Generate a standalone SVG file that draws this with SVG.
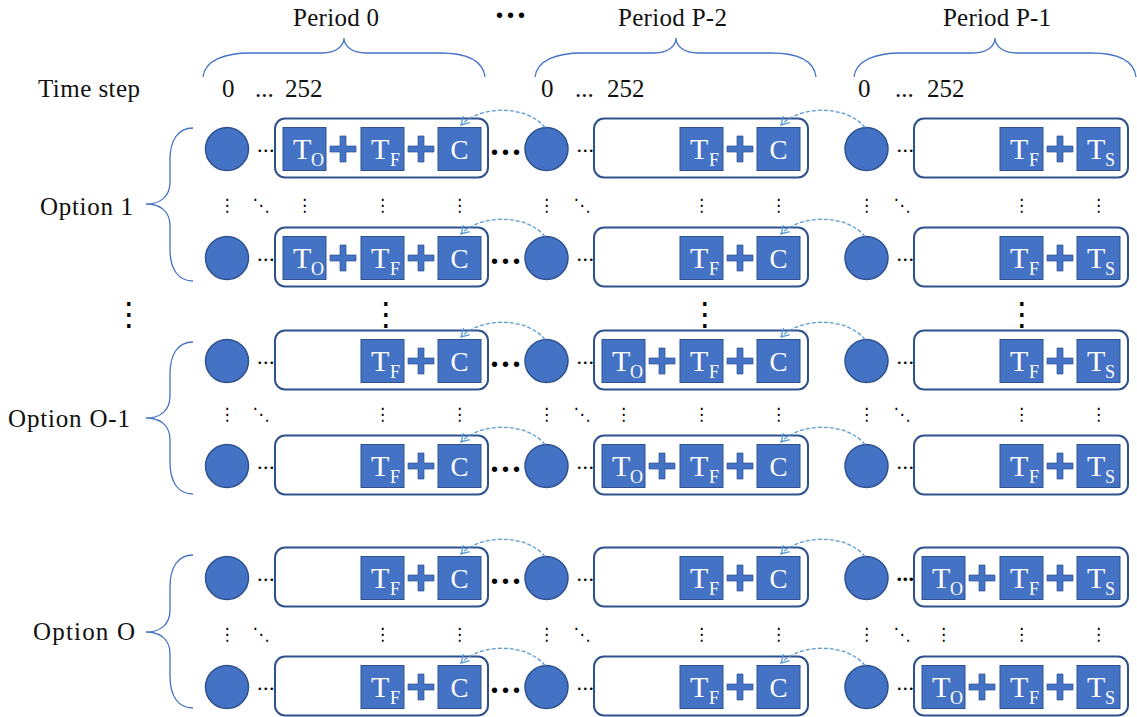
<svg xmlns="http://www.w3.org/2000/svg" xmlns:xlink="http://www.w3.org/1999/xlink" width="1137" height="717" viewBox="0 0 1137 717">
<style>
.c{fill:#4472C4;stroke:#2F528F;stroke-width:1.5}
.b{fill:#fff;stroke:#2F528F;stroke-width:2}
.s{fill:#4472C4;stroke:#2F528F;stroke-width:1}
.t{font-family:"Liberation Serif",serif;fill:#fff;font-size:30px}
.cc{font-family:"Liberation Serif",serif;fill:#fff;font-size:27px;text-anchor:middle}
.sub{font-size:18px}
.lbl{font-family:"Liberation Serif",serif;fill:#111;font-size:25px}
.sd{font-family:"Liberation Serif",serif;fill:#000;font-size:22px;letter-spacing:0.5px}
.bd{font-family:"Liberation Sans",sans-serif;fill:#000;font-size:20px;letter-spacing:4px}
.bv{font-family:"DejaVu Sans",sans-serif;fill:#000;font-size:32px;text-anchor:middle}
.vd{font-family:"DejaVu Sans",sans-serif;fill:#000;font-size:17px;text-anchor:middle}
.a{fill:none;stroke:#5B9BD5;stroke-width:1.3;stroke-dasharray:4 2;marker-end:url(#ah)}
.br{fill:none;stroke:#4472C4;stroke-width:1.3}
</style>
<defs>
<marker id="ah" markerWidth="12" markerHeight="12" refX="10" refY="6" orient="auto" markerUnits="userSpaceOnUse"><path d="M2,1.5 L10,6 L2,10.5" fill="none" stroke="#5B9BD5" stroke-width="1.3"/></marker>
<path id="plus" d="M-3,-13 h6 v10 h10 v6 h-10 v10 h-6 v-10 h-10 v-6 h10 z" fill="#4472C4" stroke="#2F528F" stroke-width="0.7"/>
</defs>
<rect width="1137" height="717" fill="#fff"/>

<g id="header">
<text class="lbl" x="293" y="26" textLength="86">Period 0</text>
<text class="bd" x="496" y="22">•••</text>
<text class="lbl" x="618" y="26" textLength="109">Period P-2</text>
<text class="lbl" x="943" y="26" textLength="108">Period P-1</text>
<path class="br" d="M203,77 C205,60 225,53 250,53 L322,53 C336,53 344,46 344,38 C344,46 352,53 366,53 L440,53 C465,53 483,60 485,77"/>
<path class="br" d="M535,77 C537,60 557,53 582,53 L654,53 C668,53 676,46 676,38 C676,46 684,53 698,53 L771,53 C796,53 814,60 816,77"/>
<path class="br" d="M854,77 C856,60 876,53 901,53 L973,53 C987,53 995,46 995,38 C995,46 1003,53 1017,53 L1091,53 C1116,53 1134,60 1136,77"/>
<text class="lbl" x="38" y="97" textLength="102">Time step</text>
<text class="lbl" x="222" y="97">0</text><text class="lbl" x="255" y="97">...</text><text class="lbl" x="285" y="97">252</text>
<text class="lbl" x="541" y="97">0</text><text class="lbl" x="575" y="97">...</text><text class="lbl" x="607" y="97">252</text>
<text class="lbl" x="858" y="97">0</text><text class="lbl" x="895" y="97">...</text><text class="lbl" x="927" y="97">252</text>
</g>

<g id="options">
<text class="lbl" x="40" y="215" textLength="93">Option 1</text>
<path class="br" d="M193,128 C178,128 170,140 170,160 L170,182 C170,197 160,204 146,204 C160,204 170,211 170,226 L170,249 C170,269 178,281 193,281"/>
<text class="lbl" x="8" y="427" textLength="122">Option O-1</text>
<path class="br" d="M193,342 C178,342 170,354 170,374 L170,396 C170,411 160,418 146,418 C160,418 170,425 170,440 L170,462 C170,482 178,494 193,494"/>
<text class="lbl" x="33" y="640" textLength="102">Option O</text>
<path class="br" d="M193,555 C178,555 170,567 170,587 L170,610 C170,625 160,632 146,632 C160,632 170,639 170,654 L170,676 C170,696 178,708 193,708"/>
</g>

<g id="ellipses">
<text class="vd" x="227" y="211">⋮</text><text class="vd" x="261" y="211">⋱</text><text class="vd" x="304.5" y="211">⋮</text><text class="vd" x="382.5" y="211">⋮</text><text class="vd" x="459.5" y="211">⋮</text>
<text class="vd" x="546.5" y="211">⋮</text><text class="vd" x="582" y="211">⋱</text><text class="vd" x="701.5" y="211">⋮</text><text class="vd" x="778.5" y="211">⋮</text>
<text class="vd" x="866.5" y="211">⋮</text><text class="vd" x="902" y="211">⋱</text><text class="vd" x="1021.5" y="211">⋮</text><text class="vd" x="1098.5" y="211">⋮</text>

<text class="bv" x="129" y="325">⋮</text>
<text class="bv" x="386" y="325">⋮</text>
<text class="bv" x="705" y="325">⋮</text>
<text class="bv" x="1022" y="325">⋮</text>

<text class="vd" x="227" y="420">⋮</text><text class="vd" x="261" y="420">⋱</text><text class="vd" x="382.5" y="420">⋮</text><text class="vd" x="459.5" y="420">⋮</text>
<text class="vd" x="546.5" y="420">⋮</text><text class="vd" x="582" y="420">⋱</text><text class="vd" x="623.5" y="420">⋮</text><text class="vd" x="701.5" y="420">⋮</text><text class="vd" x="778.5" y="420">⋮</text>
<text class="vd" x="866.5" y="420">⋮</text><text class="vd" x="902" y="420">⋱</text><text class="vd" x="1021.5" y="420">⋮</text><text class="vd" x="1098.5" y="420">⋮</text>

<text class="vd" x="227" y="640">⋮</text><text class="vd" x="261" y="640">⋱</text><text class="vd" x="382.5" y="640">⋮</text><text class="vd" x="459.5" y="640">⋮</text>
<text class="vd" x="546.5" y="640">⋮</text><text class="vd" x="582" y="640">⋱</text><text class="vd" x="701.5" y="640">⋮</text><text class="vd" x="778.5" y="640">⋮</text>
<text class="vd" x="866.5" y="640">⋮</text><text class="vd" x="902" y="640">⋱</text><text class="vd" x="943.5" y="640">⋮</text><text class="vd" x="1021.5" y="640">⋮</text><text class="vd" x="1098.5" y="640">⋮</text>
</g>

<!-- Row 1 cy=149 -->
<g id="r1-n0"><circle class="c" cx="227" cy="149" r="21.5"/><text class="sd" x="257" y="151.5">...</text></g>
<g id="r1-b0"><rect class="b" x="275" y="118.5" width="213" height="59" rx="10"/>
<rect class="s" x="283" y="127.5" width="43" height="43"/><text class="t" x="293" y="158.5">T<tspan class="sub" x="311" y="166">O</tspan></text>
<use href="#plus" x="343" y="149"/>
<rect class="s" x="361" y="127.5" width="43" height="43"/><text class="t" x="371" y="158.5">T<tspan class="sub" x="390" y="166">F</tspan></text>
<use href="#plus" x="421" y="149"/>
<rect class="s" x="438" y="127.5" width="43" height="43"/><text class="cc" x="459.5" y="158.5">C</text>
<text class="bd" x="491" y="159">•••</text></g>
<g id="r1-n1"><circle class="c" cx="546.5" cy="149" r="21.5"/><text class="sd" x="576.5" y="151.5">...</text></g>
<g id="r1-b1"><rect class="b" x="594" y="118.5" width="214" height="59" rx="10"/>
<rect class="s" x="680" y="127.5" width="43" height="43"/><text class="t" x="690" y="158.5">T<tspan class="sub" x="709" y="166">F</tspan></text>
<use href="#plus" x="740" y="149"/>
<rect class="s" x="757" y="127.5" width="43" height="43"/><text class="cc" x="778.5" y="158.5">C</text></g>
<g id="r1-n2"><circle class="c" cx="866.5" cy="149" r="21.5"/><text class="sd" x="896.5" y="151.5">...</text></g>
<g id="r1-b2"><rect class="b" x="914" y="118.5" width="214" height="59" rx="10"/>
<rect class="s" x="1000" y="127.5" width="43" height="43"/><text class="t" x="1010" y="158.5">T<tspan class="sub" x="1029" y="166">F</tspan></text>
<use href="#plus" x="1060" y="149"/>
<rect class="s" x="1077" y="127.5" width="43" height="43"/><text class="t" x="1087" y="158.5">T<tspan class="sub" x="1105" y="166">S</tspan></text></g>

<!-- Row 2 cy=258 -->
<g id="r2-n0"><circle class="c" cx="227" cy="258" r="21.5"/><text class="sd" x="257" y="260.5">...</text></g>
<g id="r2-b0"><rect class="b" x="275" y="227.5" width="213" height="59" rx="10"/>
<rect class="s" x="283" y="236.5" width="43" height="43"/><text class="t" x="293" y="267.5">T<tspan class="sub" x="311" y="275">O</tspan></text>
<use href="#plus" x="343" y="258"/>
<rect class="s" x="361" y="236.5" width="43" height="43"/><text class="t" x="371" y="267.5">T<tspan class="sub" x="390" y="275">F</tspan></text>
<use href="#plus" x="421" y="258"/>
<rect class="s" x="438" y="236.5" width="43" height="43"/><text class="cc" x="459.5" y="267.5">C</text>
<text class="bd" x="491" y="268">•••</text></g>
<g id="r2-n1"><circle class="c" cx="546.5" cy="258" r="21.5"/><text class="sd" x="576.5" y="260.5">...</text></g>
<g id="r2-b1"><rect class="b" x="594" y="227.5" width="214" height="59" rx="10"/>
<rect class="s" x="680" y="236.5" width="43" height="43"/><text class="t" x="690" y="267.5">T<tspan class="sub" x="709" y="275">F</tspan></text>
<use href="#plus" x="740" y="258"/>
<rect class="s" x="757" y="236.5" width="43" height="43"/><text class="cc" x="778.5" y="267.5">C</text></g>
<g id="r2-n2"><circle class="c" cx="866.5" cy="258" r="21.5"/><text class="sd" x="896.5" y="260.5">...</text></g>
<g id="r2-b2"><rect class="b" x="914" y="227.5" width="214" height="59" rx="10"/>
<rect class="s" x="1000" y="236.5" width="43" height="43"/><text class="t" x="1010" y="267.5">T<tspan class="sub" x="1029" y="275">F</tspan></text>
<use href="#plus" x="1060" y="258"/>
<rect class="s" x="1077" y="236.5" width="43" height="43"/><text class="t" x="1087" y="267.5">T<tspan class="sub" x="1105" y="275">S</tspan></text></g>

<!-- Row 3 cy=361 -->
<g id="r3-n0"><circle class="c" cx="227" cy="361" r="21.5"/><text class="sd" x="257" y="363.5">...</text></g>
<g id="r3-b0"><rect class="b" x="275" y="330.5" width="213" height="59" rx="10"/>
<rect class="s" x="361" y="339.5" width="43" height="43"/><text class="t" x="371" y="370.5">T<tspan class="sub" x="390" y="378">F</tspan></text>
<use href="#plus" x="421" y="361"/>
<rect class="s" x="438" y="339.5" width="43" height="43"/><text class="cc" x="459.5" y="370.5">C</text>
<text class="bd" x="491" y="371">•••</text></g>
<g id="r3-n1"><circle class="c" cx="546.5" cy="361" r="21.5"/><text class="sd" x="576.5" y="363.5">...</text></g>
<g id="r3-b1"><rect class="b" x="594" y="330.5" width="214" height="59" rx="10"/>
<rect class="s" x="602" y="339.5" width="43" height="43"/><text class="t" x="612" y="370.5">T<tspan class="sub" x="630" y="378">O</tspan></text>
<use href="#plus" x="662" y="361"/>
<rect class="s" x="680" y="339.5" width="43" height="43"/><text class="t" x="690" y="370.5">T<tspan class="sub" x="709" y="378">F</tspan></text>
<use href="#plus" x="740" y="361"/>
<rect class="s" x="757" y="339.5" width="43" height="43"/><text class="cc" x="778.5" y="370.5">C</text></g>
<g id="r3-n2"><circle class="c" cx="866.5" cy="361" r="21.5"/><text class="sd" x="896.5" y="363.5">...</text></g>
<g id="r3-b2"><rect class="b" x="914" y="330.5" width="214" height="59" rx="10"/>
<rect class="s" x="1000" y="339.5" width="43" height="43"/><text class="t" x="1010" y="370.5">T<tspan class="sub" x="1029" y="378">F</tspan></text>
<use href="#plus" x="1060" y="361"/>
<rect class="s" x="1077" y="339.5" width="43" height="43"/><text class="t" x="1087" y="370.5">T<tspan class="sub" x="1105" y="378">S</tspan></text></g>

<!-- Row 4 cy=466 -->
<g id="r4-n0"><circle class="c" cx="227" cy="466" r="21.5"/><text class="sd" x="257" y="468.5">...</text></g>
<g id="r4-b0"><rect class="b" x="275" y="435.5" width="213" height="59" rx="10"/>
<rect class="s" x="361" y="444.5" width="43" height="43"/><text class="t" x="371" y="475.5">T<tspan class="sub" x="390" y="483">F</tspan></text>
<use href="#plus" x="421" y="466"/>
<rect class="s" x="438" y="444.5" width="43" height="43"/><text class="cc" x="459.5" y="475.5">C</text>
<text class="bd" x="491" y="476">•••</text></g>
<g id="r4-n1"><circle class="c" cx="546.5" cy="466" r="21.5"/><text class="sd" x="576.5" y="468.5">...</text></g>
<g id="r4-b1"><rect class="b" x="594" y="435.5" width="214" height="59" rx="10"/>
<rect class="s" x="602" y="444.5" width="43" height="43"/><text class="t" x="612" y="475.5">T<tspan class="sub" x="630" y="483">O</tspan></text>
<use href="#plus" x="662" y="466"/>
<rect class="s" x="680" y="444.5" width="43" height="43"/><text class="t" x="690" y="475.5">T<tspan class="sub" x="709" y="483">F</tspan></text>
<use href="#plus" x="740" y="466"/>
<rect class="s" x="757" y="444.5" width="43" height="43"/><text class="cc" x="778.5" y="475.5">C</text></g>
<g id="r4-n2"><circle class="c" cx="866.5" cy="466" r="21.5"/><text class="sd" x="896.5" y="468.5">...</text></g>
<g id="r4-b2"><rect class="b" x="914" y="435.5" width="214" height="59" rx="10"/>
<rect class="s" x="1000" y="444.5" width="43" height="43"/><text class="t" x="1010" y="475.5">T<tspan class="sub" x="1029" y="483">F</tspan></text>
<use href="#plus" x="1060" y="466"/>
<rect class="s" x="1077" y="444.5" width="43" height="43"/><text class="t" x="1087" y="475.5">T<tspan class="sub" x="1105" y="483">S</tspan></text></g>

<!-- Row 5 cy=578 -->
<g id="r5-n0"><circle class="c" cx="227" cy="578" r="21.5"/><text class="sd" x="257" y="580.5">...</text></g>
<g id="r5-b0"><rect class="b" x="275" y="547.5" width="213" height="59" rx="10"/>
<rect class="s" x="361" y="556.5" width="43" height="43"/><text class="t" x="371" y="587.5">T<tspan class="sub" x="390" y="595">F</tspan></text>
<use href="#plus" x="421" y="578"/>
<rect class="s" x="438" y="556.5" width="43" height="43"/><text class="cc" x="459.5" y="587.5">C</text>
<text class="bd" x="491" y="588">•••</text></g>
<g id="r5-n1"><circle class="c" cx="546.5" cy="578" r="21.5"/><text class="sd" x="576.5" y="580.5">...</text></g>
<g id="r5-b1"><rect class="b" x="594" y="547.5" width="214" height="59" rx="10"/>
<rect class="s" x="680" y="556.5" width="43" height="43"/><text class="t" x="690" y="587.5">T<tspan class="sub" x="709" y="595">F</tspan></text>
<use href="#plus" x="740" y="578"/>
<rect class="s" x="757" y="556.5" width="43" height="43"/><text class="cc" x="778.5" y="587.5">C</text></g>
<g id="r5-n2"><circle class="c" cx="866.5" cy="578" r="21.5"/><text class="sd" x="896.5" y="580.5" font-weight="bold">...</text></g>
<g id="r5-b2"><rect class="b" x="914" y="547.5" width="214" height="59" rx="10"/>
<rect class="s" x="922" y="556.5" width="43" height="43"/><text class="t" x="932" y="587.5">T<tspan class="sub" x="950" y="595">O</tspan></text>
<use href="#plus" x="982" y="578"/>
<rect class="s" x="1000" y="556.5" width="43" height="43"/><text class="t" x="1010" y="587.5">T<tspan class="sub" x="1029" y="595">F</tspan></text>
<use href="#plus" x="1060" y="578"/>
<rect class="s" x="1077" y="556.5" width="43" height="43"/><text class="t" x="1087" y="587.5">T<tspan class="sub" x="1105" y="595">S</tspan></text></g>

<!-- Row 6 cy=687 -->
<g id="r6-n0"><circle class="c" cx="227" cy="687" r="21.5"/><text class="sd" x="257" y="689.5">...</text></g>
<g id="r6-b0"><rect class="b" x="275" y="656.5" width="213" height="59" rx="10"/>
<rect class="s" x="361" y="665.5" width="43" height="43"/><text class="t" x="371" y="696.5">T<tspan class="sub" x="390" y="704">F</tspan></text>
<use href="#plus" x="421" y="687"/>
<rect class="s" x="438" y="665.5" width="43" height="43"/><text class="cc" x="459.5" y="696.5">C</text>
<text class="bd" x="491" y="697">•••</text></g>
<g id="r6-n1"><circle class="c" cx="546.5" cy="687" r="21.5"/><text class="sd" x="576.5" y="689.5">...</text></g>
<g id="r6-b1"><rect class="b" x="594" y="656.5" width="214" height="59" rx="10"/>
<rect class="s" x="680" y="665.5" width="43" height="43"/><text class="t" x="690" y="696.5">T<tspan class="sub" x="709" y="704">F</tspan></text>
<use href="#plus" x="740" y="687"/>
<rect class="s" x="757" y="665.5" width="43" height="43"/><text class="cc" x="778.5" y="696.5">C</text></g>
<g id="r6-n2"><circle class="c" cx="866.5" cy="687" r="21.5"/><text class="sd" x="896.5" y="689.5">...</text></g>
<g id="r6-b2"><rect class="b" x="914" y="656.5" width="214" height="59" rx="10"/>
<rect class="s" x="922" y="665.5" width="43" height="43"/><text class="t" x="932" y="696.5">T<tspan class="sub" x="950" y="704">O</tspan></text>
<use href="#plus" x="982" y="687"/>
<rect class="s" x="1000" y="665.5" width="43" height="43"/><text class="t" x="1010" y="696.5">T<tspan class="sub" x="1029" y="704">F</tspan></text>
<use href="#plus" x="1060" y="687"/>
<rect class="s" x="1077" y="665.5" width="43" height="43"/><text class="t" x="1087" y="696.5">T<tspan class="sub" x="1105" y="704">S</tspan></text></g>

<g id="connectors">
<path class="a" d="M545,127.5 C528,106 482,104 461,125"/>
<path class="a" d="M865,127.5 C848,106 802,104 781,125"/>
<path class="a" d="M545,236.5 C528,215 482,213 461,234"/>
<path class="a" d="M865,236.5 C848,215 802,213 781,234"/>
<path class="a" d="M545,339.5 C528,318 482,316 461,337"/>
<path class="a" d="M865,339.5 C848,318 802,316 781,337"/>
<path class="a" d="M545,444.5 C528,423 482,421 461,442"/>
<path class="a" d="M865,444.5 C848,423 802,421 781,442"/>
<path class="a" d="M545,556.5 C528,535 482,533 461,554"/>
<path class="a" d="M865,556.5 C848,535 802,533 781,554"/>
<path class="a" d="M545,665.5 C528,644 482,642 461,663"/>
<path class="a" d="M865,665.5 C848,644 802,642 781,663"/>
</g>
</svg>
